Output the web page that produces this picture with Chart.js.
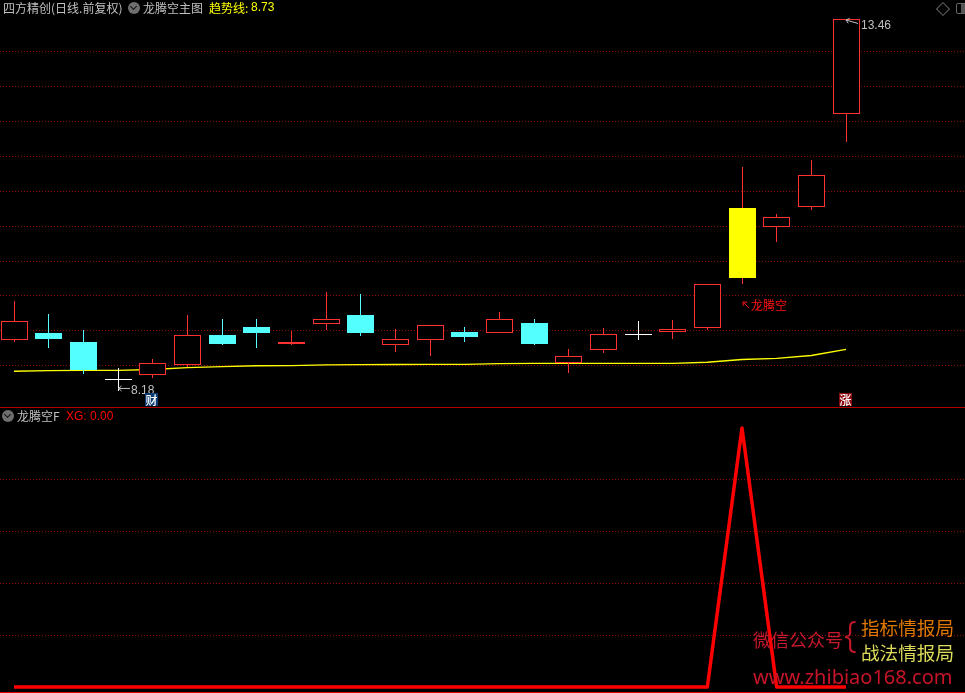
<!DOCTYPE html>
<html>
<head>
<meta charset="utf-8">
<script src="https://cdn.jsdelivr.net/npm/chart.js@4"></script>
<style>
html, body { margin: 0; padding: 0; background: #000; width: 965px; height: 693px; overflow: hidden; }
canvas { position: absolute; left: 0; display: block; }
#priceChart { top: 0; }
#xgChart { top: 408px; }
.txt { position: absolute; white-space: nowrap; font: 12px/14px "Noto Sans CJK SC", sans-serif; color: #c0c0c0; }
.num { font-family: "Liberation Sans", sans-serif; }
.sep { position: absolute; left: 0; width: 965px; height: 1px; background: #b00000; }
.dot { position: absolute; width: 12px; height: 12px; border-radius: 50%; background: #6e6e6e; }
.dot:after { content: ""; position: absolute; left: 3px; top: 2px; width: 4px; height: 4px; border-right: 1px solid #111; border-bottom: 1px solid #111; transform: rotate(45deg); }
.badge { position: absolute; width: 13px; height: 13px; font: 500 12px/13px "Noto Sans CJK SC", sans-serif; color: #fff; text-align: center; }
</style>
</head>
<body>
<canvas id="priceChart" width="965" height="407"></canvas>
<canvas id="xgChart" width="965" height="285"></canvas>

<div class="sep" style="top:407px"></div>
<div class="sep" style="top:692px;background:#e00000"></div>

<!-- title rows -->
<div class="txt" style="left:3px;top:1px">四方精创(日线.前复权)</div>
<div class="dot" style="left:128px;top:2px"></div>
<div class="txt" style="left:143px;top:1px">龙腾空主图</div>
<div class="txt" style="left:209px;top:1px;color:#ffff00">趋势线:</div>
<div class="txt num" style="left:251px;top:0px;color:#ffff00">8.73</div>
<div class="dot" style="left:2px;top:410px"></div>
<div class="txt" style="left:17px;top:409px">龙腾空F</div>
<div class="txt num" style="left:66px;top:409px;color:#ff0000">XG: 0.00</div>

<!-- window icons top right -->
<div style="position:absolute;left:938px;top:4px;width:8px;height:8px;border:1px solid #666;transform:rotate(45deg)"></div>
<div style="position:absolute;left:956px;top:3px;width:12px;height:9px;border:1px solid #666;border-radius:2px;background:linear-gradient(90deg,#000 0 4px,#555 4px)"></div>

<!-- marks on the price pane -->
<div class="txt num" style="left:861px;top:18px">13.46</div>
<div class="txt num" style="left:131px;top:383px">8.18</div>
<div class="txt" style="left:751px;top:298px;color:#ff1010">龙腾空</div>
<div class="badge" style="left:145px;top:393px;background:#0c3a70">财</div>
<div class="badge" style="left:839px;top:393px;background:#8a0c10">涨</div>

<!-- watermark -->
<div class="txt" style="left:753px;top:628px;font-size:18px;line-height:22px;color:#c8182c">微信公众号</div>
<div class="txt" style="left:844px;top:614px;font:300 36px/40px 'Noto Sans',sans-serif;color:#c8182c">{</div>
<div class="txt" style="left:861px;top:615px;font-size:18.6px;line-height:24px;color:#e07800">指标情报局</div>
<div class="txt" style="left:861px;top:640px;font-size:18.6px;line-height:24px;color:#dcdc5a">战法情报局</div>
<div class="txt" style="left:753px;top:664px;font:20px/26px 'Noto Sans',sans-serif;color:#c81428">www.zhibiao168.com</div>

<script>
// bar numbers, left to right
const bars = [0,1,2,3,4,5,6,7,8,9,10,11,12,13,14,15,16,17,18,19,20,21,22,23,24];

const open_prices  = [8.909,9.004,8.876,8.346,8.403,8.553,8.976,9.089,8.848,9.132,9.260,8.834,8.905,9.018,9.004,9.146,8.573,8.762,8.986,9.018,9.075,9.786,10.511,10.799,12.121];
const close_prices = [9.175,8.919,8.474,8.346,8.578,8.971,8.848,9.004,8.876,9.203,9.004,8.919,9.118,8.947,9.203,8.848,8.677,8.990,8.986,9.061,9.701,10.781,10.653,11.245,13.460];
const high_prices  = [9.459,9.274,9.047,8.502,8.635,9.260,9.203,9.203,9.032,9.587,9.558,9.061,9.118,9.089,9.303,9.203,8.777,9.075,9.175,9.189,9.701,11.359,10.695,11.459,13.460];
const low_prices   = [8.880,8.795,8.421,8.180,8.369,8.525,8.834,8.795,8.834,9.047,8.961,8.734,8.677,8.876,9.004,8.834,8.436,8.720,8.905,8.919,9.047,9.701,10.297,10.752,11.719];

const trend_line = [8.460,8.470,8.472,8.474,8.485,8.512,8.527,8.538,8.541,8.551,8.554,8.556,8.558,8.559,8.569,8.572,8.573,8.573,8.573,8.573,8.588,8.627,8.644,8.684,8.772];

const xg_values = [0,0,0,0,0,0,0,0,0,0,0,0,0,0,0,0,0,0,0,0,0,1,0,0,0];

// dotted levels of the two panes
const price_levels = [13.002,12.508,12.010,11.514,11.019,10.521,10.023,9.540,9.042,8.545];
const xg_levels = [0.2,0.4,0.6,0.8];

const signal_bar = 21;   // the yellow one
const low_bar = 3;
const high_bar = 24;

const RED = "#ff3232";
const CYAN = "#54ffff";
const WHITE = "#ffffff";
const YELLOW = "#ffff00";
const GRID = "#8c0a0a";

Chart.defaults.animation = false;
Chart.defaults.devicePixelRatio = 1;

function bodyFill(i)
{
    if (i === signal_bar) return YELLOW;
    if (open_prices[i] === close_prices[i]) return WHITE;
    return close_prices[i] > open_prices[i] ? "#000000" : CYAN;
}

function bodyEdge(i)
{
    if (i === signal_bar) return YELLOW;
    if (open_prices[i] === close_prices[i]) return WHITE;
    return close_prices[i] > open_prices[i] ? RED : CYAN;
}

function wickColor(i)
{
    if (open_prices[i] === close_prices[i]) return WHITE;
    return close_prices[i] > open_prices[i] ? RED : CYAN;
}

// bars land on whole pixels, otherwise the 1px wicks go blurry
const snapBars = {
    id: "snapBars",
    afterDatasetsUpdate(chart) {
        chart.data.datasets.forEach((ds, n) => {
            if (ds.type === "line") return;
            chart.getDatasetMeta(n).data.forEach((el) => {
                el.x = Math.floor(el.x + 0.01) + 0.5;
                el.y = Math.round(el.y);
                el.base = Math.round(el.base);
                if (el.base === el.y) el.base = el.y + 1;
                el.height = el.base - el.y;
            });
        });
    }
};

// little arrows next to the high, low and signal labels
const priceArrows = {
    id: "priceArrows",
    afterDatasetsDraw(chart) {
        const ctx = chart.ctx;
        const x = chart.scales.x;
        const y = chart.scales.y;

        function arrow(x0, y0, x1, y1, color)
        {
            const a = Math.atan2(y1 - y0, x1 - x0);
            ctx.save();
            ctx.strokeStyle = color;
            ctx.lineWidth = 1;
            ctx.beginPath();
            ctx.moveTo(x0, y0);
            ctx.lineTo(x1, y1);
            ctx.moveTo(x0 + 4 * Math.cos(a + 0.7), y0 + 4 * Math.sin(a + 0.7));
            ctx.lineTo(x0, y0);
            ctx.lineTo(x0 + 4 * Math.cos(a - 0.7), y0 + 4 * Math.sin(a - 0.7));
            ctx.stroke();
            ctx.restore();
        }

        const hx = x.getPixelForValue(high_bar);
        const hy = y.getPixelForValue(high_prices[high_bar]);
        arrow(hx, hy + 0.5, hx + 12, hy + 4, "#c0c0c0");

        const lx = x.getPixelForValue(low_bar);
        const ly = y.getPixelForValue(low_prices[low_bar]);
        arrow(lx + 0.5, ly - 2.5, lx + 12, ly - 2.5, "#c0c0c0");

        const sx = x.getPixelForValue(signal_bar);
        const sy = y.getPixelForValue(low_prices[signal_bar]);
        arrow(sx + 1, sy + 18, sx + 7, sy + 24, "#ff1010");
    }
};

function paneScales(y_min, y_max, levels)
{
    return {
        x: { type: "linear", display: false, offset: false, min: -14 / 34.6667, max: 951 / 34.6667 },
        y: {
            min: y_min,
            max: y_max,
            afterBuildTicks: (axis) => { axis.ticks = levels.map((v) => ({ value: v })); },
            afterFit: (axis) => { axis.width = 0; },
            ticks: { display: false },
            border: { display: false, dash: [1, 2] },
            grid: { color: GRID, lineWidth: 1, drawTicks: false }
        }
    };
}

const common_options = {
    responsive: false,
    events: [],
    layout: { padding: 0 },
    plugins: { legend: { display: false }, tooltip: { enabled: false } }
};

new Chart(document.getElementById("priceChart"), {
    type: "bar",
    data: {
        datasets: [
            {
                type: "line",
                data: bars.map((i) => ({ x: i, y: trend_line[i] })),
                borderColor: YELLOW,
                borderWidth: 1.3,
                pointRadius: 0,
                tension: 0,
                order: 3
            },
            {
                data: bars.map((i) => ({ x: i, y: [low_prices[i], high_prices[i]] })),
                backgroundColor: bars.map(wickColor),
                barThickness: 1,
                inflateAmount: 0,
                grouped: false,
                order: 2
            },
            {
                data: bars.map((i) => ({ x: i, y: [open_prices[i], close_prices[i]] })),
                backgroundColor: bars.map(bodyFill),
                borderColor: bars.map(bodyEdge),
                borderWidth: 1,
                borderSkipped: false,
                barThickness: 27,
                inflateAmount: 0,
                grouped: false,
                order: 1
            }
        ]
    },
    options: { ...common_options, scales: paneScales(7.952, 13.737, price_levels) },
    plugins: [snapBars, priceArrows]
});

new Chart(document.getElementById("xgChart"), {
    type: "line",
    data: {
        datasets: [
            {
                data: bars.map((i) => ({ x: i, y: xg_values[i] })),
                borderColor: "#ff0000",
                borderWidth: 3.5,
                borderJoinStyle: "round",
                pointRadius: 0,
                tension: 0
            }
        ]
    },
    options: { ...common_options, scales: paneScales(-0.02317, 1.0772, xg_levels) }
});
</script>
</body>
</html>
